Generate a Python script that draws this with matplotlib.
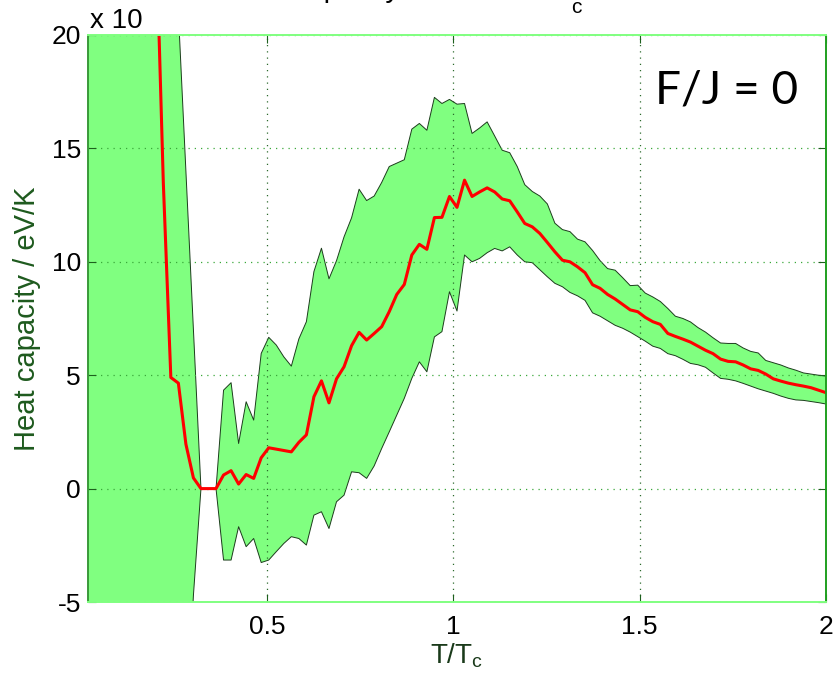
import numpy as np
import matplotlib
matplotlib.use("Agg")
import matplotlib.pyplot as plt

plt.rcParams['font.family'] = ['Liberation Sans', 'DejaVu Sans']
plt.rcParams['mathtext.fontset'] = 'custom'
plt.rcParams['mathtext.rm'] = 'Liberation Sans'
plt.rcParams['mathtext.it'] = 'Liberation Sans'

# Reduced temperature grid T/Tc (first sample at T = 0 is dropped)
temperature = np.linspace(0.0, 2.0, 100)[1:]

# Mean heat capacity (units of the axis multiplier)
heat_mean = [
    2500, 950, 480, 260, 160, 105, 72, 50, 35, 25.0,
    13.5, 4.9, 4.65, 1.96, 0.47, 0.0, 0.0, 0.0, 0.60, 0.79,
    0.20, 0.62, 0.45, 1.36, 1.80, 1.74, 1.68, 1.62, 2.04, 2.37,
    4.05, 4.75, 3.78, 4.84, 5.37, 6.30, 6.89, 6.55, 6.84, 7.14,
    7.80, 8.56, 9.00, 10.30, 10.77, 10.55, 11.95, 11.96, 12.88, 12.40,
    13.60, 12.88, 13.08, 13.26, 13.08, 12.77, 12.69, 12.20, 11.69, 11.54,
    11.25, 10.85, 10.44, 10.07, 10.00, 9.78, 9.52, 8.99, 8.83, 8.56,
    8.36, 8.12, 7.88, 7.80, 7.55, 7.36, 7.24, 6.84, 6.71, 6.59,
    6.46, 6.28, 6.10, 5.95, 5.71, 5.61, 5.59, 5.45, 5.28, 5.21,
    5.05, 4.84, 4.74, 4.65, 4.58, 4.52, 4.45, 4.34, 4.23,
]

# Upper edge of the spread band
heat_upper = [
    4000, 1500, 750, 420, 260, 170, 118, 85, 64, 50,
    40, 30, 21.0, 14.0, 7.0, 0.0, 0.0, 0.0, 4.34, 4.67,
    1.99, 3.83, 3.02, 5.96, 6.67, 6.33, 5.81, 5.40, 6.60, 7.36,
    9.57, 10.60, 9.25, 10.05, 11.10, 11.94, 13.20, 12.70, 12.90, 13.50,
    14.20, 14.35, 14.50, 15.85, 16.10, 15.80, 17.25, 16.98, 17.16, 16.95,
    16.98, 15.66, 15.90, 16.17, 15.55, 14.92, 14.81, 14.20, 13.40, 13.10,
    12.90, 12.55, 11.70, 11.42, 11.33, 11.00, 10.88, 10.50, 10.05, 9.70,
    9.63, 9.30, 8.95, 8.97, 8.62, 8.45, 8.25, 7.94, 7.60, 7.50,
    7.35, 7.10, 6.90, 6.65, 6.42, 6.40, 6.40, 6.20, 6.05, 5.98,
    5.65, 5.55, 5.45, 5.32, 5.22, 5.10, 5.05, 5.00, 4.96,
]

# Lower edge of the spread band
heat_lower = [
    -4000, -1500, -750, -420, -260, -170, -118, -85, -64, -50,
    -40, -26, -17, -11, -4.7, 0.0, 0.0, 0.0, -3.15, -3.15,
    -1.68, -2.56, -2.20, -3.26, -3.15, -2.78, -2.42, -2.12, -2.20, -2.49,
    -1.17, -1.02, -1.76, -0.58, -0.29, 0.74, 0.70, 0.45, 1.00, 1.77,
    2.50, 3.24, 3.98, 4.86, 5.59, 5.15, 6.69, 6.92, 8.68, 7.83,
    10.30, 10.00, 10.15, 10.40, 10.59, 10.48, 10.66, 10.30, 10.00, 9.96,
    9.65, 9.34, 9.05, 8.90, 8.65, 8.50, 8.30, 7.75, 7.60, 7.40,
    7.20, 7.07, 6.90, 6.70, 6.50, 6.28, 6.18, 5.95, 5.86, 5.70,
    5.52, 5.46, 5.35, 5.10, 4.86, 4.82, 4.75, 4.64, 4.52, 4.40,
    4.30, 4.20, 4.08, 3.98, 3.91, 3.89, 3.84, 3.79, 3.73,
]

x_ticks = [0.5, 1.0, 1.5, 2.0]
x_tick_labels = ['0.5', '1', '1.5', '2']
y_ticks = [-5, 0, 5, 10, 15, 20]
y_tick_labels = ['-5', '0', '5', '10', '15', '20']

W, H = 839, 686
fig = plt.figure(figsize=(W / 100, H / 100), dpi=100)
ax = fig.add_axes([88 / W, 1 - 602 / H, (826 - 88) / W, (602 - 35) / H])

ax.fill_between(temperature, heat_lower, heat_upper, color='#80ff80', lw=0, zorder=1)
ax.plot(temperature, heat_upper, color='#1c3c1c', lw=0.7, zorder=2)
ax.plot(temperature, heat_lower, color='#1c3c1c', lw=0.7, zorder=2)
ax.plot(temperature, heat_mean, color='#ff0000', lw=2.2, zorder=4)

ax.set_xlim(temperature[0], 2.0)
ax.set_ylim(-5, 20)
ax.set_xticks(x_ticks)
ax.set_xticklabels(x_tick_labels)
ax.set_yticks(y_ticks)
ax.set_yticklabels(y_tick_labels)

ax.set_axisbelow(False)
ax.xaxis.grid(True, linestyle=(0, (1, 4)), color='#2c6a2c', lw=0.9)
ax.yaxis.grid(True, linestyle=(0, (1, 4)), color='#3aa83a', lw=0.9)

ax.tick_params(which='both', direction='in', top=True, right=True,
               length=6, width=0.8, color='#1d5f1d',
               labelsize=19, labelcolor='black')
ax.tick_params(axis='x', pad=9)
ax.tick_params(axis='y', pad=5)

ax.spines['top'].set_color('#80ff80')
ax.spines['bottom'].set_color('#80ff80')
ax.spines['left'].set_color('#3a9a3a')
ax.spines['right'].set_color('#1f9f1f')
for s in ax.spines.values():
    s.set_linewidth(1.4)
    s.set_zorder(5)

ax.set_xlabel(r'T/T$_\mathrm{c}$', fontsize=20, color='#1a3a1a', labelpad=2)
ax.set_ylabel('Heat capacity / eV/K', fontsize=21, color='#1e5a1e', labelpad=8)

# axis multiplier above the y axis
fig.text(90 / W, 1 - 28 / H, 'x 10', fontsize=20, va='baseline', ha='left')

# title, largely above the top edge of the figure
fig.text(223 / W, 1 + 3 / H, 'Heat capacity versus T/T', fontsize=21,
         va='baseline', ha='left')
fig.text(571 / W, 1 - 13 / H, 'c', fontsize=15, va='baseline', ha='left')

# parameter annotation
fig.text(655 / W, 1 - 103 / H, 'F/J = 0', fontsize=33, family='Lato',
         va='baseline', ha='left')

fig.savefig('out.png', dpi=100)
